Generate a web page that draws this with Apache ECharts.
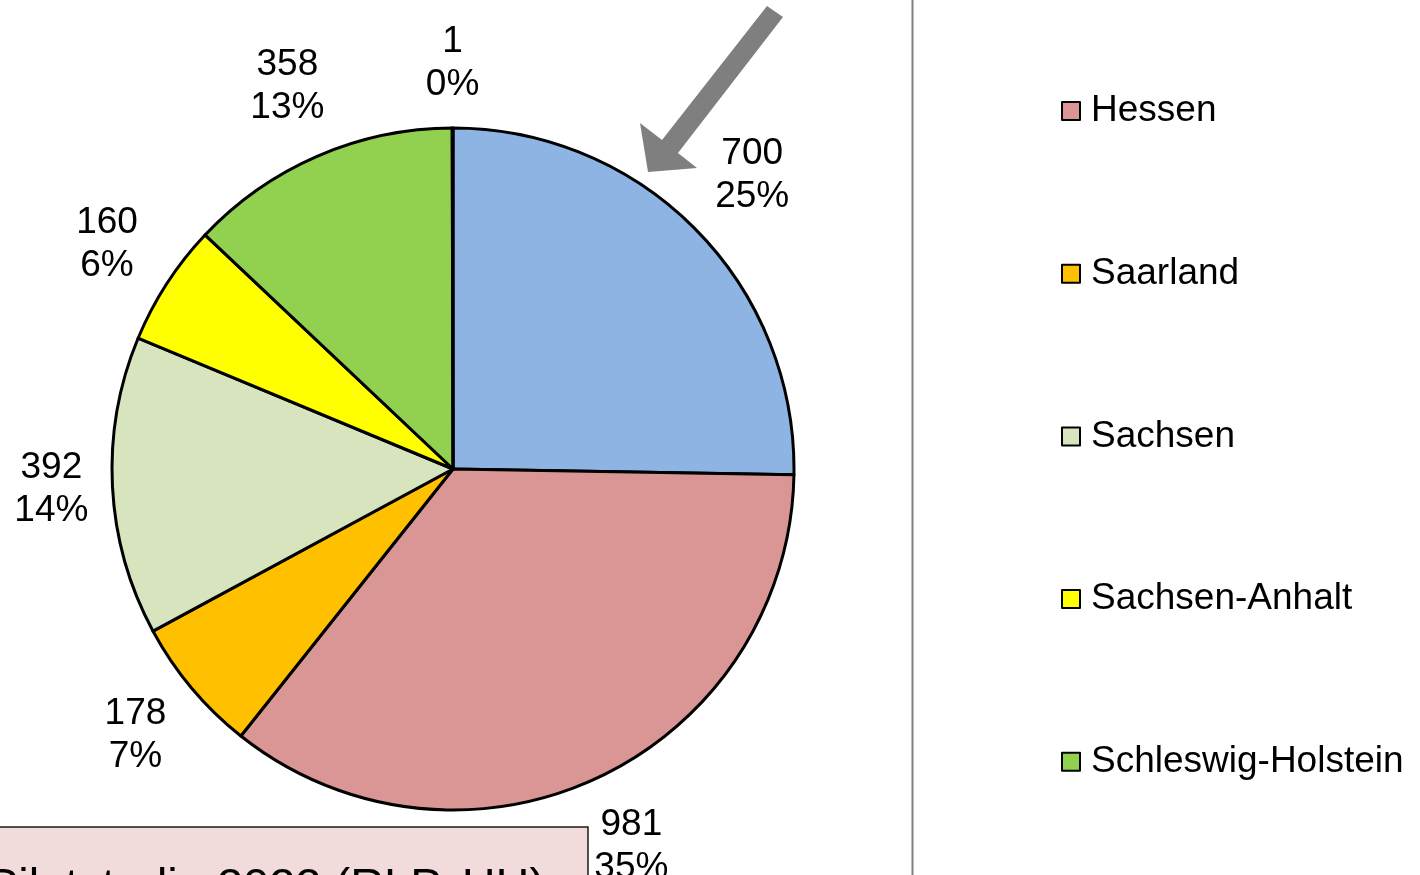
<!DOCTYPE html>
<html>
<head>
<meta charset="utf-8">
<script src="https://cdn.jsdelivr.net/npm/echarts@6/dist/echarts.min.js"></script>
<style>
  html, body { margin: 0; padding: 0; background: #fff; }
  #pie { width: 1420px; height: 875px; }
</style>
</head>
<body>
<div id="pie"></div>
<script>
// data, clockwise from 12 o'clock
var names  = ['Hamburg', 'Hessen', 'Saarland', 'Sachsen', 'Sachsen-Anhalt', 'Schleswig-Holstein', 'Thüringen'];
var values = [700, 981, 178, 392, 160, 358, 1];
var colors = ['#8eb4e3', '#d99694', '#ffc000', '#d7e4bd', '#ffff00', '#92d050', '#4f81bd'];
var legendNames = ['Hessen', 'Saarland', 'Sachsen', 'Sachsen-Anhalt', 'Schleswig-Holstein'];

var font = "'Liberation Sans', Arial, sans-serif";
var cx = 453, cy = 469, r = 341;

var total = values.reduce(function (a, b) { return a + b; }, 0);
var midAngles = [];
var acc = 0;
values.forEach(function (v) {
	midAngles.push((acc + v / 2) / total * 2 * Math.PI);   // clockwise from top
	acc += v;
});

var pie = echarts.init(document.getElementById('pie'));

var option = {
	backgroundColor: '#fff',
	animation: false,
	legend: {
		orient: 'vertical',
		left: 1061,
		top: 91,
		padding: 0,
		data: legendNames,
		icon: 'rect',
		itemWidth: 18,
		itemHeight: 18,
		itemGap: 122.7,
		selectedMode: false,
		textStyle: {
			fontFamily: font,
			fontSize: 37,
			lineHeight: 40,
			color: '#000',
			padding: [0, 0, 0, 6]
		}
	},
	graphic: [
		{   // divider
			type: 'line',
			shape: { x1: 912.5, y1: 0, x2: 912.5, y2: 875 },
			style: { stroke: '#7f7f7f', lineWidth: 2 }
		},
		{   // arrow pointing at the blue slice
			type: 'polygon',
			shape: {
				points: [[767, 6], [662, 140], [640, 123], [648, 172], [697, 168], [678, 153], [783, 17]]
			},
			style: { fill: '#7f7f7f' }
		},
		{
			type: 'rect',
			shape: { x: -2, y: 827, width: 590, height: 70 },
			style: { fill: '#f2dcdb', stroke: '#1a1a1a', lineWidth: 1.5 }
		},
		{
			type: 'text',
			x: -13,
			y: 888,
			style: {
				text: 'Pilotstudie 2022 (RLP, HH)',
				font: '47px ' + font,
				fill: '#000',
				align: 'left',
				verticalAlign: 'middle'
			}
		}
	],
	series: [{
		type: 'pie',
		center: [cx, cy],
		radius: r,
		startAngle: 90,
		clockwise: true,
		percentPrecision: 0,
		avoidLabelOverlap: false,
		data: names.map(function (n, i) {
			return { name: n, value: values[i], itemStyle: { color: colors[i] } };
		}),
		itemStyle: { borderColor: '#000', borderWidth: 3 },
		label: {
			show: true,
			position: 'outside',
			formatter: '{c}\n{d}%',
			fontFamily: font,
			fontSize: 37,
			lineHeight: 43,
			color: '#000'
		},
		labelLine: { show: false },
		labelLayout: function (p) {
			var a = midAngles[p.dataIndex];
			var s = Math.sin(a), c = Math.cos(a);
			var hw = p.labelRect.width / 2, hh = p.labelRect.height / 2;
			var d = r + 22 + hw * Math.abs(s) + hh * Math.abs(c);
			return {
				x: cx + d * s,
				y: cy - d * c,
				align: 'center',
				verticalAlign: 'middle'
			};
		},
		emphasis: { disabled: true }
	}]
};

pie.setOption(option);

window.onresize = function () {
	pie.resize();
};
</script>
</body>
</html>
